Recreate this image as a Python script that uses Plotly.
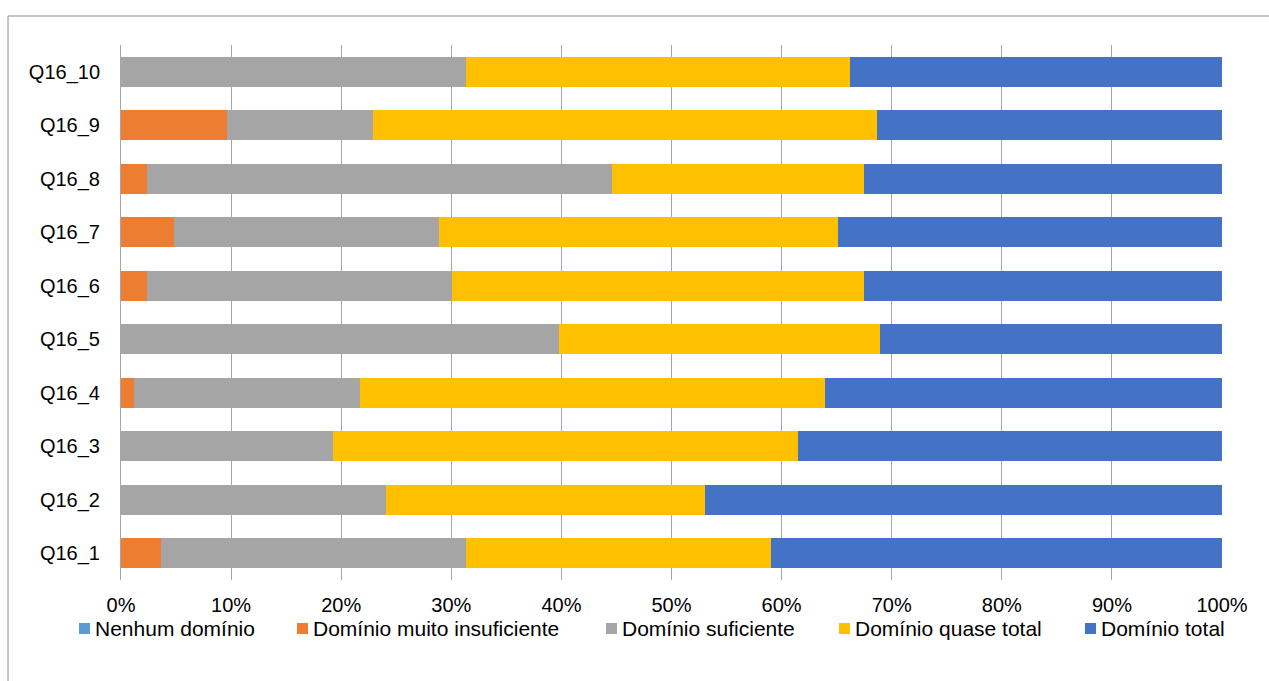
import plotly.graph_objects as go

# Share of responses per question and proficiency level (%)
questions = ["Q16_1", "Q16_2", "Q16_3", "Q16_4", "Q16_5",
             "Q16_6", "Q16_7", "Q16_8", "Q16_9", "Q16_10"]

nenhum = [0, 0, 0, 0, 0, 0, 0, 0, 0, 0]
muito_insuficiente = [3.6, 0, 0, 1.2, 0, 2.4, 4.8, 2.4, 9.6, 0]
suficiente = [27.7, 24.1, 19.3, 20.5, 39.8, 27.7, 24.1, 42.2, 13.3, 31.3]
quase_total = [27.7, 28.9, 42.2, 42.2, 29.1, 37.4, 36.2, 22.9, 45.8, 34.9]
total = [41.0, 47.0, 38.5, 36.1, 31.1, 32.5, 34.9, 32.5, 31.3, 33.8]

series_names = ["Nenhum domínio", "Domínio muito insuficiente",
                "Domínio suficiente", "Domínio quase total", "Domínio total"]
series_values = [nenhum, muito_insuficiente, suficiente, quase_total, total]
series_colors = ["#5B9BD5", "#ED7D31", "#A5A5A5", "#FFC000", "#4472C4"]

x_ticks = [0, 10, 20, 30, 40, 50, 60, 70, 80, 90, 100]
x_ticklabels = [f"{v}%" for v in x_ticks]

# Plot-area geometry in pixels
W, H = 1269, 681
L, R, T, B = 121, 47, 45, 101
PW, PH = W - L - R, H - T - B


def px_to_paper_x(px):
    return (px - L) / PW


def px_to_paper_y(py):
    return (H - B - py) / PH


fig = go.Figure()
for name, vals, color in zip(series_names, series_values, series_colors):
    fig.add_trace(go.Bar(
        y=questions, x=vals, name=name, orientation="h",
        marker=dict(color=color, line=dict(width=0)),
        showlegend=False,
    ))

family = "Liberation Sans, Arial, sans-serif"
axis_font = dict(family=family, size=20, color="#000000")
legend_font = dict(family=family, size=21, color="#000000")

# Legend key drawn below the axis: one square and label per series
key_left_px = [79, 297, 606, 839, 1085]
key_size = 11
key_center_y = 628.5

shapes = [
    dict(type="rect", xref="paper", yref="paper",
         x0=px_to_paper_x(8), x1=1.2, y0=-0.3, y1=px_to_paper_y(16),
         line=dict(color="#8C8C8C", width=1), fillcolor="rgba(0,0,0,0)",
         layer="below"),
]
annotations = []
for name, color, kx in zip(series_names, series_colors, key_left_px):
    shapes.append(dict(
        type="rect", xref="paper", yref="paper",
        x0=px_to_paper_x(kx), x1=px_to_paper_x(kx + key_size),
        y0=px_to_paper_y(key_center_y + key_size / 2),
        y1=px_to_paper_y(key_center_y - key_size / 2),
        line=dict(width=0), fillcolor=color,
    ))
    annotations.append(dict(
        xref="paper", yref="paper",
        x=px_to_paper_x(kx + key_size + 4), y=px_to_paper_y(key_center_y),
        xanchor="left", yanchor="middle", showarrow=False,
        text=name, font=legend_font, borderpad=0,
    ))

fig.update_layout(
    barmode="stack",
    bargap=0.44,
    width=W, height=H,
    margin=dict(l=L, r=R, t=T, b=B),
    paper_bgcolor="white", plot_bgcolor="white",
    font=axis_font,
    showlegend=False,
    xaxis=dict(
        range=[0, 100], tickvals=x_ticks, ticktext=x_ticklabels,
        showgrid=True, gridcolor="#A6A6A6", gridwidth=1,
        zeroline=False, showline=False, ticks="",
        ticklabelstandoff=11, tickfont=axis_font, fixedrange=True,
    ),
    yaxis=dict(
        showgrid=False, zeroline=False,
        showline=True, linecolor="#A6A6A6", linewidth=1,
        ticks="", ticklabelstandoff=16, tickfont=axis_font,
    ),
    shapes=shapes,
    annotations=annotations,
)

fig.write_html("out.html")
